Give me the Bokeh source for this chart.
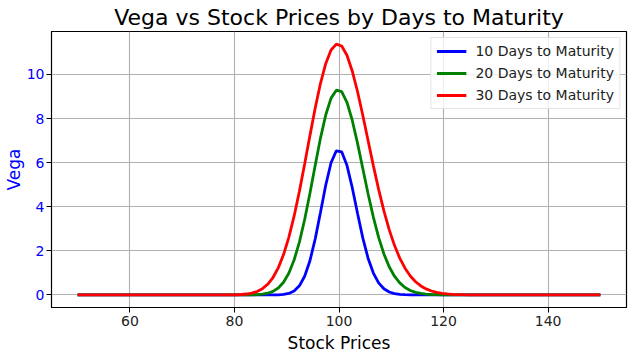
from bokeh.plotting import figure
from bokeh.models import Range1d, FixedTicker, Legend, LegendItem
from bokeh.embed import file_html
from bokeh.resources import INLINE

# Stock prices (100 evenly spaced samples from 50 to 150)
stock_prices = [
    50.00, 51.01, 52.02, 53.03, 54.04, 55.05, 56.06, 57.07, 58.08, 59.09,
    60.10, 61.11, 62.12, 63.13, 64.14, 65.15, 66.16, 67.17, 68.18, 69.19,
    70.20, 71.21, 72.22, 73.23, 74.24, 75.25, 76.26, 77.27, 78.28, 79.29,
    80.30, 81.31, 82.32, 83.33, 84.34, 85.35, 86.36, 87.37, 88.38, 89.39,
    90.40, 91.41, 92.42, 93.43, 94.44, 95.45, 96.46, 97.47, 98.48, 99.49,
    100.51, 101.52, 102.53, 103.54, 104.55, 105.56, 106.57, 107.58, 108.59, 109.60,
    110.61, 111.62, 112.63, 113.64, 114.65, 115.66, 116.67, 117.68, 118.69, 119.70,
    120.71, 121.72, 122.73, 123.74, 124.75, 125.76, 126.77, 127.78, 128.79, 129.80,
    130.81, 131.82, 132.83, 133.84, 134.85, 135.86, 136.87, 137.88, 138.89, 139.90,
    140.91, 141.92, 142.93, 143.94, 144.95, 145.96, 146.97, 147.98, 148.99, 150.00,
]

vega_10 = [0.0] * 37 + [
    0.002, 0.007, 0.023, 0.069, 0.178, 0.412, 0.846, 1.550, 2.543, 3.750,
    4.986, 5.995, 6.540, 6.492, 5.879, 4.872, 3.703, 2.588, 1.668, 0.993,
    0.548, 0.280, 0.134, 0.059, 0.025, 0.010, 0.003, 0.001,
] + [0.0] * 35

vega_20 = [0.0] * 32 + [
    0.002, 0.005, 0.014, 0.034, 0.077, 0.161, 0.315, 0.575, 0.985, 1.584,
    2.397, 3.420, 4.611, 5.883, 7.115, 8.172, 8.927, 9.288, 9.219, 8.740,
    7.926, 6.885, 5.736, 4.588, 3.527, 2.610, 1.861, 1.280, 0.850, 0.545,
    0.338, 0.203, 0.118, 0.067, 0.037, 0.020, 0.010, 0.005, 0.003, 0.001,
] + [0.0] * 28

vega_30 = [0.0] * 28 + [
    0.002, 0.004, 0.009, 0.020, 0.042, 0.083, 0.157, 0.283, 0.483, 0.789,
    1.228, 1.830, 2.612, 3.573, 4.698, 5.938, 7.227, 8.479, 9.600, 10.502,
    11.110, 11.379, 11.293, 10.872, 10.161, 9.228, 8.150, 7.006, 5.866, 4.788,
    3.812, 2.963, 2.250, 1.670, 1.212, 0.861, 0.599, 0.409, 0.273, 0.179,
    0.115, 0.073, 0.045, 0.028, 0.017, 0.010, 0.006, 0.003,
] + [0.0] * 24

series_labels = ["10 Days to Maturity", "20 Days to Maturity", "30 Days to Maturity"]
series_colors = ["#0000ff", "#008000", "#ff0000"]
x_ticks = [60, 80, 100, 120, 140]
y_ticks = [0, 2, 4, 6, 8, 10]

FONT = "DejaVu Sans"

p = figure(
    frame_width=575, frame_height=276,
    output_backend="svg", toolbar_location=None,
    x_range=Range1d(45, 155), y_range=Range1d(-0.57, 11.95),
    title="Vega vs Stock Prices by Days to Maturity",
    min_border_left=0, min_border_right=2, min_border_top=0, min_border_bottom=0,
)
p.background_fill_color = "white"
p.border_fill_color = "white"
p.outline_line_color = "black"
p.outline_line_width = 1.2

p.title.align = "center"
p.title.text_font = FONT
p.title.text_font_size = "22px"
p.title.text_font_style = "normal"
p.title.text_color = "black"
p.title.offset = 0
p.title.standoff = 4

items = []
for ys, lab, col in zip([vega_10, vega_20, vega_30], series_labels, series_colors):
    r = p.line(stock_prices, ys, line_color=col, line_width=2.8)
    items.append(LegendItem(label=lab, renderers=[r]))

legend = Legend(items=items, location="top_right")
legend.label_text_font = FONT
legend.label_text_font_size = "14px"
legend.label_text_color = "#222222"
legend.glyph_width = 30
legend.glyph_height = 16
legend.label_height = 16
legend.label_standoff = 9
legend.spacing = 6
legend.padding = 5
legend.margin = 6
legend.border_line_color = "#cccccc"
legend.border_line_width = 1
legend.background_fill_alpha = 0.8
p.add_layout(legend)

for ax in (p.xaxis[0], p.yaxis[0]):
    ax.major_label_text_font = FONT
    ax.major_label_text_font_size = "14px"
    ax.axis_label_text_font = FONT
    ax.axis_label_text_font_size = "17px"
    ax.axis_label_text_font_style = "normal"
    ax.major_tick_in = 0
    ax.major_tick_out = 5
    ax.minor_tick_line_color = None
    ax.axis_line_color = "black"
    ax.major_tick_line_color = "black"

p.xaxis.ticker = FixedTicker(ticks=x_ticks)
p.yaxis.ticker = FixedTicker(ticks=y_ticks)
p.xaxis.axis_label = "Stock Prices"
p.xaxis.axis_label_text_color = "black"
p.xaxis.major_label_text_color = "#222222"
p.xaxis.major_label_standoff = 3
p.xaxis.axis_label_standoff = 4
p.yaxis.axis_label = "Vega"
p.yaxis.axis_label_text_color = "#0000ff"
p.yaxis.major_label_text_color = "#0000ff"
p.yaxis.major_label_standoff = 2
p.yaxis.axis_label_standoff = 0

p.xgrid.ticker = FixedTicker(ticks=x_ticks)
p.ygrid.ticker = FixedTicker(ticks=y_ticks)
for g in (p.xgrid[0], p.ygrid[0]):
    g.grid_line_color = "#b0b0b0"
    g.grid_line_width = 1.1

open("out.html", "w").write(file_html(p, INLINE))
